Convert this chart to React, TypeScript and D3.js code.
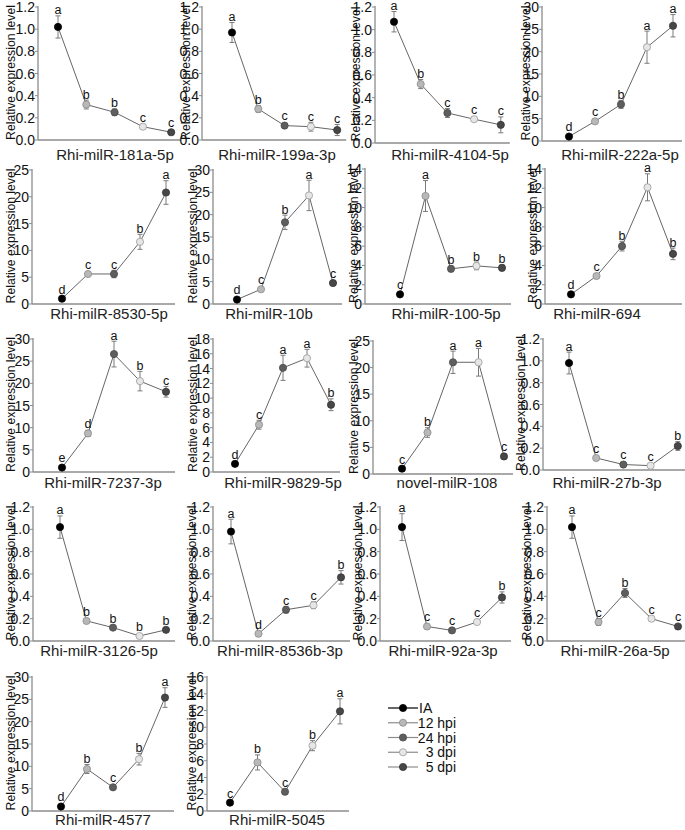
import React from "react";
import * as d3 from "d3";

const panelNames = [
  "Rhi-milR-181a-5p", "Rhi-milR-199a-3p", "Rhi-milR-4104-5p", "Rhi-milR-222a-5p",
  "Rhi-milR-8530-5p", "Rhi-milR-10b", "Rhi-milR-100-5p", "Rhi-milR-694",
  "Rhi-milR-7237-3p", "Rhi-milR-9829-5p", "novel-milR-108", "Rhi-milR-27b-3p",
  "Rhi-milR-3126-5p", "Rhi-milR-8536b-3p", "Rhi-milR-92a-3p", "Rhi-milR-26a-5p",
  "Rhi-milR-4577", "Rhi-milR-5045",
];

const timePoints = ["IA", "12 hpi", "24 hpi", "3 dpi", "5 dpi"];

const meanValues = [
  [1.02, 0.32, 0.25, 0.12, 0.07],
  [0.97, 0.28, 0.13, 0.12, 0.09],
  [1.07, 0.52, 0.265, 0.21, 0.16],
  [1.0, 4.4, 8.2, 21.0, 25.8],
  [1.0, 5.6, 5.6, 11.6, 20.8],
  [1.0, 3.3, 18.3, 24.3, 4.7],
  [1.0, 11.2, 3.65, 3.95, 3.75],
  [1.0, 2.9, 6.0, 12.1, 5.2],
  [1.0, 8.7, 26.6, 20.5, 18.1],
  [1.1, 6.4, 14.1, 15.4, 9.1],
  [1.0, 7.8, 21.0, 21.0, 3.3],
  [0.98, 0.11, 0.05, 0.04, 0.22],
  [1.02, 0.18, 0.12, 0.045, 0.1],
  [0.98, 0.065, 0.28, 0.32, 0.57],
  [1.02, 0.13, 0.095, 0.17, 0.39],
  [1.02, 0.17, 0.43, 0.2, 0.13],
  [1.0, 9.4, 5.3, 11.6, 25.4],
  [1.0, 5.8, 2.3, 7.8, 11.9],
];

const errValues = [
  [0.1, 0.04, 0.03, 0.01, 0.01],
  [0.09, 0.03, 0.02, 0.04, 0.05],
  [0.09, 0.04, 0.04, 0.02, 0.07],
  [0.2, 0.5, 0.9, 3.6, 2.5],
  [0.2, 0.3, 0.7, 1.4, 2.2],
  [0.2, 0.3, 1.6, 3.4, 0.5],
  [0.1, 1.6, 0.3, 0.4, 0.3],
  [0.1, 0.2, 0.5, 1.4, 0.6],
  [0.2, 0.7, 2.9, 2.2, 1.2],
  [0.1, 0.6, 1.7, 1.2, 0.8],
  [0.2, 0.9, 2.1, 2.6, 0.4],
  [0.1, 0.01, 0.01, 0.01, 0.04],
  [0.1, 0.02, 0.01, 0.01, 0.02],
  [0.11, 0.01, 0.03, 0.03, 0.06],
  [0.12, 0.02, 0.01, 0.01, 0.05],
  [0.1, 0.03, 0.04, 0.01, 0.01],
  [0.2, 1.0, 0.3, 1.3, 2.2],
  [0.1, 0.9, 0.3, 0.6, 1.5],
];

const letterLabels = [
  ["a", "b", "b", "c", "c"],
  ["a", "b", "c", "c", "c"],
  ["a", "b", "c", "c", "c"],
  ["d", "c", "b", "a", "a"],
  ["d", "c", "c", "b", "a"],
  ["d", "c", "b", "a", "c"],
  ["c", "a", "b", "b", "b"],
  ["d", "c", "b", "a", "b"],
  ["e", "d", "a", "b", "c"],
  ["d", "c", "a", "a", "b"],
  ["c", "b", "a", "a", "c"],
  ["a", "c", "c", "c", "b"],
  ["a", "b", "b", "b", "b"],
  ["a", "d", "c", "c", "b"],
  ["a", "c", "c", "c", "b"],
  ["a", "c", "b", "c", "c"],
  ["d", "b", "c", "b", "a"],
  ["c", "b", "c", "b", "a"],
];

const yMaxValues = [1.2, 1.2, 1.2, 30, 25, 30, 14, 14, 30, 18, 25, 1.2, 1.2, 1.2, 1.2, 1.2, 30, 16];
const yTickSteps = [0.2, 0.2, 0.2, 5, 5, 5, 2, 2, 5, 2, 5, 0.2, 0.2, 0.2, 0.2, 0.2, 5, 2];

// layout (pixel positions) per panel
const layout = [
  { ax: 38, top: 7, bot: 140, x0: 58, step: 28.3, tx: 11, lx: 115, ly: 160 },
  { ax: 202, top: 7, bot: 140, x0: 232, step: 26.3, tx: 186, lx: 277, ly: 160 },
  { ax: 375, top: 7, bot: 143, x0: 394, step: 26.7, tx: 356, lx: 450, ly: 160 },
  { ax: 542, top: 7, bot: 141, x0: 569, step: 26, tx: 526, lx: 620, ly: 160 },
  { ax: 32, top: 170, bot: 304, x0: 62, step: 26, tx: 11, lx: 109, ly: 319 },
  { ax: 213, top: 170, bot: 304, x0: 237, step: 24, tx: 193, lx: 269, ly: 319 },
  { ax: 365, top: 169, bot: 304, x0: 400, step: 25.5, tx: 354, lx: 446, ly: 319 },
  { ax: 545, top: 169, bot: 304, x0: 571, step: 25.5, tx: 533, lx: 597, ly: 319 },
  { ax: 33, top: 339, bot: 472, x0: 62, step: 26, tx: 11, lx: 103, ly: 488 },
  { ax: 213, top: 339, bot: 472, x0: 235, step: 24, tx: 193, lx: 283, ly: 488 },
  { ax: 373, top: 341, bot: 474, x0: 402, step: 25.5, tx: 354, lx: 447, ly: 488 },
  { ax: 543, top: 339, bot: 470, x0: 569, step: 27.2, tx: 521, lx: 607, ly: 488 },
  { ax: 33, top: 507, bot: 641, x0: 60, step: 26.5, tx: 11, lx: 99, ly: 656 },
  { ax: 213, top: 507, bot: 641, x0: 231, step: 27.5, tx: 192, lx: 280, ly: 656 },
  { ax: 380, top: 507, bot: 641, x0: 402, step: 25, tx: 358, lx: 443, ly: 656 },
  { ax: 547, top: 507, bot: 641, x0: 572, step: 26.5, tx: 527, lx: 615, ly: 656 },
  { ax: 32, top: 677, bot: 811, x0: 61, step: 26, tx: 11, lx: 103, ly: 825 },
  { ax: 207, top: 677, bot: 811, x0: 230, step: 27.5, tx: 192, lx: 277, ly: 825 },
];

const markerFill = ["#000000", "#b8b8b8", "#5e5e5e", "#e6e6e6", "#474747"];
const markerStroke = ["#000000", "#8a8a8a", "#4a4a4a", "#9a9a9a", "#333333"];
const FONT = "Arial, 'Liberation Sans', Helvetica, sans-serif";

function Panel({ i }: { i: number }) {
  const L = layout[i];
  const vals = meanValues[i];
  const errs = errValues[i];
  const y = d3.scaleLinear().domain([0, yMaxValues[i]]).range([L.bot, L.top]);
  const x = d3.scaleLinear().domain([0, 4]).range([L.x0, L.x0 + 4 * L.step]);
  const ticks = d3.range(0, yMaxValues[i] + yTickSteps[i] / 2, yTickSteps[i]);
  const fmt = yTickSteps[i] < 1 ? d3.format(".1f") : d3.format("d");
  const line = d3.line<number>().x((_, k) => x(k)).y((v) => y(v));
  const xEnd = x(4) + 9;
  const r = 3.6;
  return (
    <g>
      <line x1={L.ax} x2={L.ax} y1={L.top - 1} y2={L.bot} stroke="#8c8c8c" strokeWidth={1.3} />
      <line x1={L.ax} x2={xEnd} y1={L.bot} y2={L.bot} stroke="#8c8c8c" strokeWidth={1.3} />
      {ticks.map((t, k) => (
        <g key={k}>
          <line x1={L.ax - 3} x2={L.ax} y1={y(t)} y2={y(t)} stroke="#8c8c8c" strokeWidth={1} />
          <text x={L.ax - 3} y={y(t)} dy="0.36em" textAnchor="end" fontSize={14} fontFamily={FONT} fill="#111">
            {fmt(t)}
          </text>
        </g>
      ))}
      <text
        transform={`translate(${L.tx},${(L.top + L.bot) / 2 - 1}) rotate(-90)`}
        dy="0.36em"
        textAnchor="middle"
        fontSize={12.2}
        fontFamily={FONT}
        fill="#111"
      >
        Relative expression level
      </text>
      <text x={L.lx} y={L.ly} textAnchor="middle" fontSize={15} fontFamily={FONT} fill="#222">
        {panelNames[i]}
      </text>
      <path d={line(vals) || ""} fill="none" stroke="#666" strokeWidth={1} />
      {vals.map((v, k) => (
        <g key={"e" + k} stroke="#7a7a7a" strokeWidth={1}>
          <line x1={x(k)} x2={x(k)} y1={y(v + errs[k])} y2={y(v - errs[k])} />
          <line x1={x(k) - 2.5} x2={x(k) + 2.5} y1={y(v + errs[k])} y2={y(v + errs[k])} />
          <line x1={x(k) - 2.5} x2={x(k) + 2.5} y1={y(v - errs[k])} y2={y(v - errs[k])} />
        </g>
      ))}
      {vals.map((v, k) => (
        <circle key={"m" + k} cx={x(k)} cy={y(v)} r={r} fill={markerFill[k]} stroke={markerStroke[k]} strokeWidth={0.8} />
      ))}
      {vals.map((v, k) => (
        <text
          key={"l" + k}
          x={x(k)}
          y={Math.min(y(v + errs[k]), y(v) - r) - 1.5}
          textAnchor="middle"
          fontSize={12.5}
          fontFamily={FONT}
          fill="#111"
        >
          {letterLabels[i][k]}
        </text>
      ))}
    </g>
  );
}

function Legend() {
  const ly = d3.scalePoint<string>().domain(timePoints).range([708, 767]);
  return (
    <g>
      {timePoints.map((t, k) => (
        <g key={t}>
          <line x1={388} x2={418} y1={ly(t)} y2={ly(t)} stroke={k === 0 ? "#000" : "#8c8c8c"} strokeWidth={1.2} />
          <circle cx={403} cy={ly(t)} r={3.6} fill={markerFill[k]} stroke={markerStroke[k]} strokeWidth={0.8} />
          <text
            x={k === 0 ? 419 : 456}
            y={ly(t)}
            dy="0.36em"
            textAnchor={k === 0 ? "start" : "end"}
            fontSize={14}
            fontFamily={FONT}
            fill="#111"
          >
            {t}
          </text>
        </g>
      ))}
    </g>
  );
}

export default function App() {
  return (
    <svg width={685} height={830} style={{ position: "absolute", left: 0, top: 0, background: "#fff" }}>
      <rect width={685} height={830} fill="#fff" />
      {panelNames.map((_, i) => (
        <Panel key={i} i={i} />
      ))}
      <Legend />
    </svg>
  );
}
